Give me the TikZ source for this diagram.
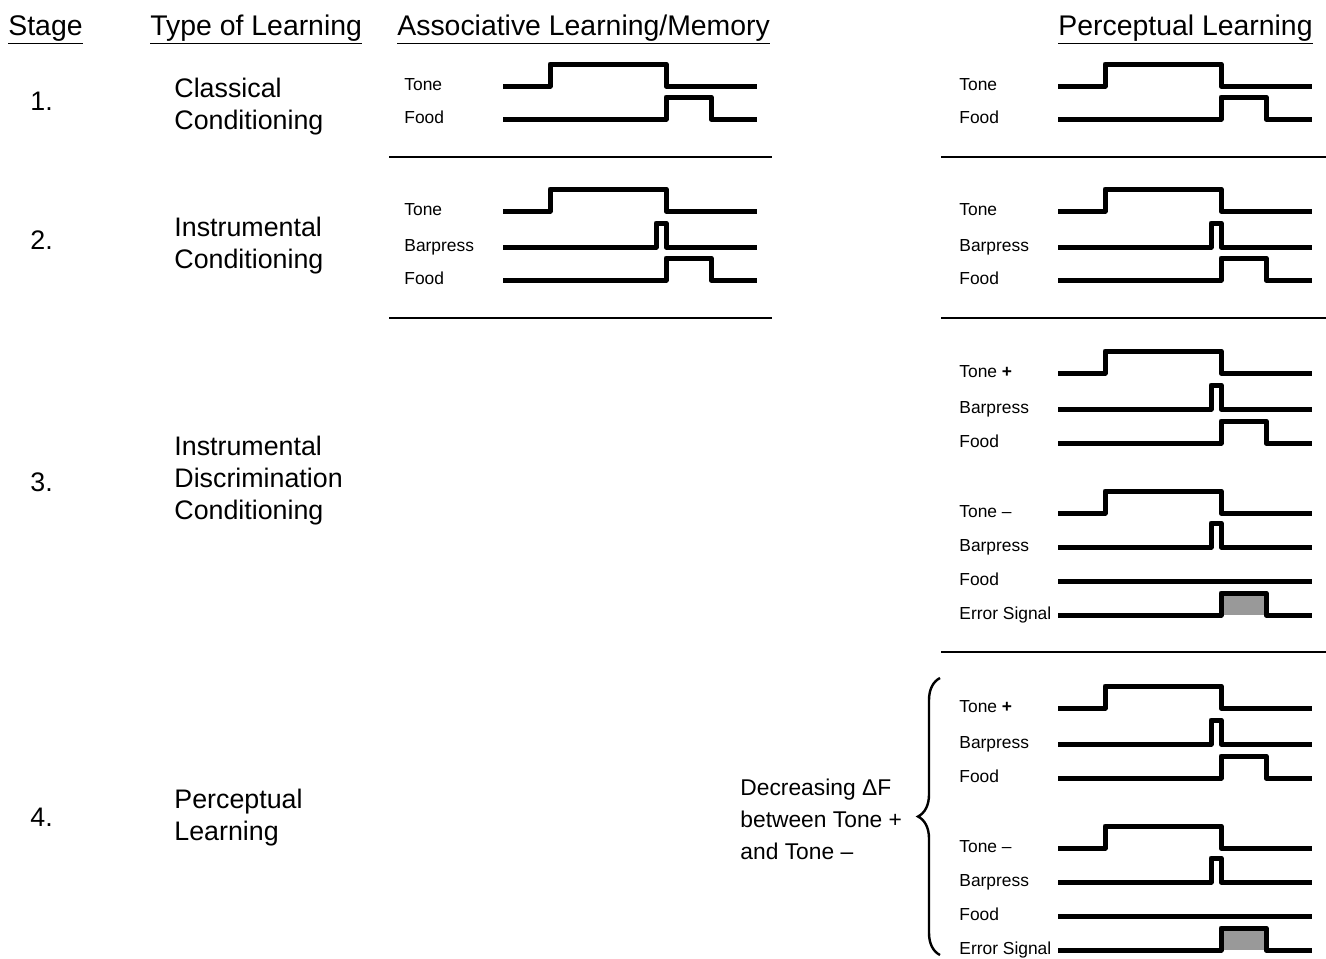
\documentclass[tikz,border=0pt]{standalone}
\usepackage{fontspec}
\setmainfont{Liberation Sans}
\usetikzlibrary{decorations.pathreplacing}

\begin{document}
\begin{tikzpicture}[x=0.5pt,y=-0.5pt]
\tikzset{wave/.style={line width=2.5pt,line join=round}}
\tikzset{rule/.style={line width=0.8pt}}
\tikzset{head/.style={anchor=base west,inner sep=0pt,font=\fontsize{14.2}{17}\selectfont}}
\tikzset{stagetext/.style={anchor=west,inner sep=0pt,align=left,font=\fontsize{13.4}{16}\selectfont}}
\tikzset{sig/.style={anchor=base west,inner sep=0pt,font=\fontsize{8.7}{10}\selectfont}}
\tikzset{
tonewave/.pic={\draw[wave] (0,0) -- (47,0) -- (47,-22) -- (163,-22) -- (163,0) -- (254,0);},
presswave/.pic={\draw[wave] (0,0) -- (153,0) -- (153,-24) -- (163,-24) -- (163,0) -- (254,0);},
foodwave/.pic={\draw[wave] (0,0) -- (163,0) -- (163,-22) -- (208,-22) -- (208,0) -- (254,0);},
nofoodwave/.pic={\draw[wave] (0,0) -- (254,0);},
errorwave/.pic={\fill[gray!80] (163,0) rectangle (208,-22);
\draw[wave] (0,0) -- (163,0) -- (163,-22) -- (208,-22) -- (208,0) -- (254,0);}
}
\useasboundingbox (0,0) rectangle (1326,958);

\node[head] (hstage) at (8,35) {\underline{Stage}};
\node[head] (htype) at (150,35) {\underline{Type of Learning}};
\node[head] (hassoc) at (397,35) {\underline{Associative Learning/Memory}};
\node[head] (hperc) at (1058,35) {\underline{Perceptual Learning}};

\node[stagetext] (n1) at (30,101) {1.};
\node[stagetext] (n2) at (30,240) {2.};
\node[stagetext] (n3) at (30,482) {3.};
\node[stagetext] (n4) at (30,817) {4.};

\node[stagetext] (c1) at (174,107) {Classical\\Conditioning};
\node[stagetext] (c2) at (174,246) {Instrumental\\Conditioning};
\node[stagetext] (c3) at (174,481) {Instrumental\\Discrimination\\Conditioning};
\node[stagetext] (c4) at (174,818) {Perceptual\\Learning};

% stages 1 and 2, both columns
\foreach \c/\lx/\wx in {a/404/503,p/959/1058}{
  \node[sig] (tone1\c) at (\lx,90) {Tone};
  \node[sig] (food1\c) at (\lx,123) {Food};
  \pic at (\wx,86) {tonewave};
  \pic at (\wx,119) {foodwave};
  \node[sig] (tone2\c) at (\lx,215) {Tone};
  \node[sig] (press2\c) at (\lx,251) {Barpress};
  \node[sig] (food2\c) at (\lx,284) {Food};
  \pic at (\wx,211) {tonewave};
  \pic at (\wx,247) {presswave};
  \pic at (\wx,280) {foodwave};
}

% stages 3 and 4, perceptual column
\foreach \s/\y in {3/373,4/708}{
  \node[sig] (tp\s) at (959,\y+4) {Tone \textbf{+}};
  \node[sig] (bp\s) at (959,\y+40) {Barpress};
  \node[sig] (fp\s) at (959,\y+74) {Food};
  \node[sig] (tm\s) at (959,\y+144) {Tone –};
  \node[sig] (bm\s) at (959,\y+178) {Barpress};
  \node[sig] (fm\s) at (959,\y+212) {Food};
  \node[sig] (err\s) at (959,\y+246) {Error Signal};
  \pic at (1058,\y) {tonewave};
  \pic at (1058,\y+36) {presswave};
  \pic at (1058,\y+70) {foodwave};
  \pic at (1058,\y+140) {tonewave};
  \pic at (1058,\y+174) {presswave};
  \pic at (1058,\y+208) {nofoodwave};
  \pic at (1058,\y+242) {errorwave};
}

\draw[rule] (389,157) -- (772,157);
\draw[rule] (941,157) -- (1326,157);
\draw[rule] (389,318) -- (772,318);
\draw[rule] (941,318) -- (1326,318);
\draw[rule] (941,652) -- (1326,652);

\node[anchor=west,inner sep=0pt,align=left,font=\fontsize{11.4}{16}\selectfont] (dF) at (740,819) {Decreasing ΔF\\between Tone +\\and Tone –};
\draw[line width=1.2pt,decorate,decoration={brace,amplitude=11pt}] (940,955) -- (940,678);
\end{tikzpicture}
\end{document}
